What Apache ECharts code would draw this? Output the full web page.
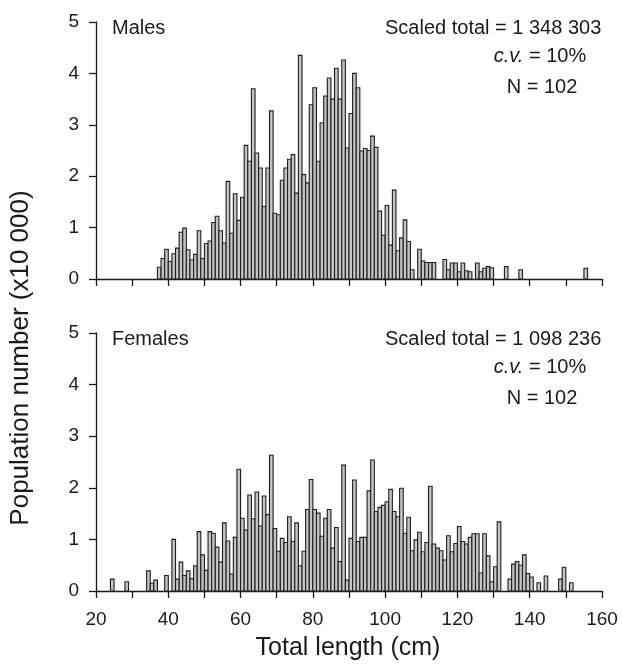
<!DOCTYPE html>
<html><head><meta charset="utf-8">
<script src="https://cdn.jsdelivr.net/npm/echarts@6/dist/echarts.min.js"></script>
<style>html,body{margin:0;padding:0;background:#fff}#c{width:623px;height:665px}</style>
</head><body><div id="c"></div>
<script>
// ---- data (population number, x10 000) per 1-cm length class ----
const maleLengths = [37,38,39,40,41,42,43,44,45,46,47,48,49,50,51,52,53,54,55,56,57,58,59,60,61,62,63,64,65,66,67,68,69,70,71,72,73,74,75,76,77,78,79,80,81,82,83,84,85,86,87,88,89,90,91,92,93,94,95,96,97,98,99,100,101,102,103,104,105,106,107,109,110,111,112,113,116,117,118,119,120,121,122,123,125,126,127,128,129,133,137,155];
const maleCounts = [0.23,0.40,0.58,0.34,0.49,0.60,0.91,0.99,0.57,0.37,0.48,0.94,0.40,0.69,0.74,1.10,1.22,0.94,0.70,1.90,0.89,1.66,1.14,1.59,2.60,2.29,3.70,2.45,2.16,1.41,2.16,3.27,1.28,1.25,1.92,2.16,2.33,2.42,1.67,4.35,2.03,1.87,3.39,3.72,2.29,3.04,3.56,3.91,3.50,4.10,3.50,4.26,2.55,3.22,4.00,3.72,2.49,2.54,2.50,2.78,2.56,1.32,0.85,1.43,0.66,1.73,0.55,0.80,1.15,0.73,0.18,0.58,0.35,0.32,0.32,0.32,0.38,0.18,0.31,0.31,0.14,0.31,0.16,0.14,0.31,0.14,0.21,0.24,0.22,0.24,0.18,0.21];
const femaleLengths = [24,28,34,35,36,39,41,42,43,44,45,46,47,48,49,50,51,52,53,54,55,56,57,58,59,60,61,62,63,64,65,66,67,68,69,70,71,72,73,74,75,76,77,78,79,80,81,82,83,84,85,86,87,88,89,90,91,92,93,94,95,96,97,98,99,100,101,102,103,104,105,106,107,108,109,110,111,112,113,114,115,116,117,118,119,120,121,122,123,124,125,126,127,128,129,130,131,134,135,136,137,138,139,140,142,144,148,149,151];
const femaleCounts = [0.23,0.18,0.39,0.15,0.21,0.30,1.00,0.23,0.56,0.30,0.39,0.24,0.49,1.15,0.70,0.40,1.15,1.12,0.85,0.56,1.32,0.97,0.33,1.04,2.36,1.41,1.18,1.86,1.40,1.92,1.26,1.84,1.48,2.63,1.21,0.77,1.02,0.94,1.44,0.96,1.32,0.49,0.77,1.58,2.16,1.58,1.51,1.06,1.41,1.58,0.83,1.23,0.57,2.44,0.21,1.02,2.15,0.96,1.04,1.04,1.94,2.54,1.54,1.62,1.66,1.73,1.97,1.54,1.44,1.99,1.12,1.43,0.78,0.99,1.14,0.76,0.94,2.03,0.91,0.83,0.78,0.60,1.07,0.76,0.92,1.25,0.96,0.91,1.04,1.11,1.11,0.35,1.11,0.68,0.18,0.47,1.34,0.23,0.52,0.57,0.50,0.70,0.34,0.27,0.16,0.29,0.23,0.46,0.16];
const xTickLabels = [20,40,60,80,100,120,140,160];
const yTickLabels = [0,1,2,3,4,5];
const maleInfo = ['Scaled total = 1 348 303', 'c.v.', ' = 10%', 'N = 102'];
const femaleInfo = ['Scaled total = 1 098 236', 'c.v.', ' = 10%', 'N = 102'];

const FONT = "'Liberation Sans', Arial, Helvetica, sans-serif";
const INK = '#1b1b1b';
const BIN = 1;

function renderBar(params, api) {
  const x0 = api.value(0), v = api.value(1);
  const p0 = api.coord([x0, v]);
  const p1 = api.coord([x0 + BIN, 0]);
  return {
    type: 'rect',
    shape: {x: p0[0], y: p0[1], width: p1[0] - p0[0], height: p1[1] - p0[1]},
    style: {fill: '#c4c4c4', stroke: '#1e1e1e', lineWidth: 1.1}
  };
}

function xAxis(idx, showLabels) {
  return {
    gridIndex: idx, type: 'value', min: 20, max: 160, interval: 10,
    axisLine: {lineStyle: {color: INK, width: 1.3}},
    axisTick: {length: 7, lineStyle: {color: INK, width: 1.3}},
    splitLine: {show: false},
    axisLabel: {
      show: showLabels, margin: 19, fontSize: 19, color: INK, fontFamily: FONT,
      formatter: v => xTickLabels.indexOf(v) >= 0 ? String(v) : ''
    }
  };
}
function yAxis(idx) {
  return {
    gridIndex: idx, type: 'value', min: 0, max: 5, interval: 1,
    axisLine: {show: true, lineStyle: {color: INK, width: 1.3}},
    axisTick: {show: true, length: 7, lineStyle: {color: INK, width: 1.3}},
    splitLine: {show: false},
    axisLabel: {margin: 17, fontSize: 19, color: INK, fontFamily: FONT,
      formatter: v => yTickLabels.indexOf(v) >= 0 ? String(v) : ''}
  };
}

function panelText(top, label, info) {
  return [
    {type: 'text', x: 112, y: top + 6, style: {text: label, font: '20px ' + FONT, fill: INK, textVerticalAlign: 'middle'}},
    {type: 'text', x: 385, y: top + 6, style: {text: info[0], font: '20px ' + FONT, fill: INK, textVerticalAlign: 'middle'}},
    {type: 'text', x: 540, y: top + 34, style: {
      text: '{i|' + info[1] + '}' + info[2], font: '20px ' + FONT, fill: INK, textAlign: 'center', textVerticalAlign: 'middle',
      rich: {i: {fontStyle: 'italic', fontSize: 20, fontFamily: FONT, fill: INK}}}},
    {type: 'text', x: 542, y: top + 65, style: {text: info[3], font: '20px ' + FONT, fill: INK, textAlign: 'center', textVerticalAlign: 'middle'}}
  ];
}

const chart = echarts.init(document.getElementById('c'), null, {renderer: 'canvas'});
chart.setOption({
  animation: false,
  backgroundColor: '#fff',
  grid: [
    {left: 96, top: 22, width: 506, height: 257},
    {left: 96, top: 333, width: 506, height: 258}
  ],
  xAxis: [xAxis(0, false), xAxis(1, true)],
  yAxis: [yAxis(0), yAxis(1)],
  series: [
    {type: 'custom', name: 'Males', xAxisIndex: 0, yAxisIndex: 0, renderItem: renderBar,
     encode: {x: 0, y: 1}, data: maleLengths.map((l, i) => [l, maleCounts[i]])},
    {type: 'custom', name: 'Females', xAxisIndex: 1, yAxisIndex: 1, renderItem: renderBar,
     encode: {x: 0, y: 1}, data: femaleLengths.map((l, i) => [l, femaleCounts[i]])}
  ],
  graphic: [
    ...panelText(22, 'Males', maleInfo),
    ...panelText(333, 'Females', femaleInfo),
    {type: 'text', x: 21, y: 358, rotation: Math.PI / 2,
     style: {text: 'Population number (x10 000)', font: '26px ' + FONT, fill: INK, textAlign: 'center', textVerticalAlign: 'middle'}},
    {type: 'text', x: 348, y: 648,
     style: {text: 'Total length (cm)', font: '25px ' + FONT, fill: INK, textAlign: 'center', textVerticalAlign: 'middle'}}
  ]
});
</script>
</body></html>
